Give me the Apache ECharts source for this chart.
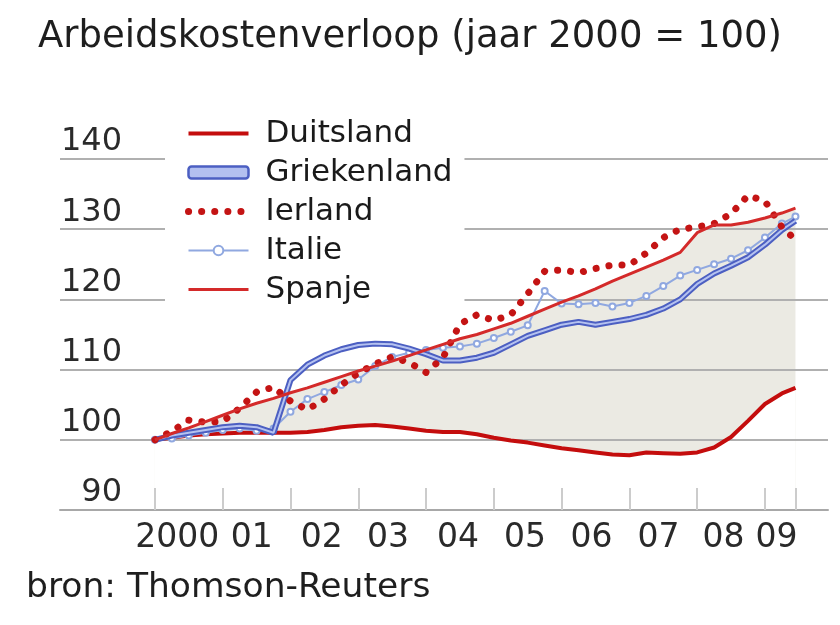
<!DOCTYPE html>
<html><head><meta charset="utf-8">
<script src="https://cdn.jsdelivr.net/npm/echarts@6/dist/echarts.min.js"></script>
<style>html,body{margin:0;padding:0;background:#fff}#c{width:840px;height:625px}</style>
</head><body><div id="c"></div>
<script>
// years since 2000 (quarterly, last point mid-2009)
const periods = [0,0.25,0.5,0.75,1,1.25,1.5,1.75,2,2.25,2.5,2.75,3,3.25,3.5,3.75,4,4.25,4.5,4.75,5,5.25,5.5,5.75,6,6.25,6.5,6.75,7,7.25,7.5,7.75,8,8.25,8.5,8.75,9,9.25,9.45];
const duitsland = [100,100.3,100.6,100.8,100.9,101.0,101.0,101.0,101.0,101.1,101.4,101.8,102.0,102.1,101.9,101.6,101.3,101.1,101.1,100.8,100.3,99.9,99.6,99.2,98.8,98.5,98.2,97.9,97.8,98.2,98.1,98.0,98.2,98.9,100.4,102.7,105.1,106.6,107.4];
const griekenland = [100,100.6,101.0,101.4,101.8,102.0,101.8,101.0,108.5,110.7,112.0,112.9,113.5,113.7,113.6,113.0,112.2,111.3,111.3,111.7,112.4,113.6,114.8,115.6,116.4,116.8,116.4,116.8,117.2,117.8,118.7,120.0,122.2,123.7,124.8,126.0,127.8,129.9,131.2];
const ierland = [100,101.2,102.8,102.5,102.6,104.5,106.8,107.5,105.5,104.3,105.8,107.8,109.5,110.8,111.8,111.0,109.6,111.7,116.5,117.8,117.0,117.8,120.8,124.0,124.2,123.8,124.4,124.9,124.9,126.6,128.8,130.0,130.3,130.8,132.2,134.8,134.0,130.3,128.5];
const italie = [100,100.2,100.6,101.0,101.4,101.6,101.3,101.6,104.0,105.8,106.8,107.8,108.6,110.5,111.8,112.4,112.8,113.1,113.3,113.7,114.5,115.4,116.3,121.2,119.4,119.3,119.5,119.0,119.5,120.5,121.9,123.4,124.2,125.0,125.8,127.0,128.8,130.8,131.8];
const spanje = [100,100.9,101.7,102.6,103.5,104.4,105.2,105.9,106.7,107.4,108.2,109.0,109.8,110.5,111.2,112.0,112.8,113.6,114.4,115.0,115.8,116.6,117.6,118.6,119.6,120.5,121.5,122.6,123.6,124.6,125.6,126.7,129.5,130.6,130.6,131.0,131.6,132.3,133.0];
const yearLabels = ['2000','01','02','03','04','05','06','07','08','09'];
const yearTicks = [0,1,2,3,4,5,6,7,8,9,9.45];

// layout: where each year label is centred (years since 2000)
const yearLabelPos = [0.33,1.43,2.46,3.44,4.47,5.46,6.44,7.43,8.39,9.17];

const pair = arr => periods.map((t,i)=>[t, arr[i]]);
const F = 'DejaVu Sans';
const noDot = {opacity: 0};
const chart = echarts.init(document.getElementById('c'), null, {renderer:'canvas'});
const option = {
  animation: false,
  backgroundColor: '#fff',
  title: [
    {text: 'Arbeidskostenverloop (jaar 2000 = 100)', left: 38, top: 19, padding: 0,
     textStyle: {fontFamily: F, fontSize: 37, fontWeight: 'normal', color: '#1e1e1e'}},
    {text: 'bron: Thomson-Reuters', left: 26, top: 571, padding: 0,
     textStyle: {fontFamily: F, fontSize: 34.5, fontWeight: 'normal', color: '#1e1e1e'}}
  ],
  legend: {
    data: [
      {name: 'Duitsland', itemStyle: noDot},
      {name: 'Griekenland', icon: 'roundRect', itemStyle: {color: '#b3c0f0', borderColor: '#4c5fc2', borderWidth: 2.5}},
      {name: 'Ierland', itemStyle: noDot},
      {name: 'Italie'},
      {name: 'Spanje', itemStyle: noDot}
    ],
    orient: 'vertical', left: 165, top: 114,
    itemWidth: 60, itemHeight: 12, itemGap: 8,
    padding: [4, 12, 4, 20], backgroundColor: '#fff', z: 10,
    lineStyle: {width: 'inherit'},
    textStyle: {fontFamily: F, fontSize: 31, color: '#1a1a1a', padding: [0,0,0,12], lineHeight: 31}
  },
  grid: {left: 60, right: 12, top: 159, bottom: 115},
  xAxis: {
    type: 'value', min: -1.4, max: 9.93,
    splitLine: {show: false},
    axisLine: {show: true, lineStyle: {color: '#a8a8a8', width: 2}},
    axisTick: {show: true, inside: true, length: 22, customValues: yearTicks,
               lineStyle: {color: '#cccccc', width: 2}},
    axisLabel: {customValues: yearLabelPos, margin: 12, fontFamily: F, fontSize: 33, color: '#2a2a2a',
      formatter: v => { const i = yearLabelPos.findIndex(p => Math.abs(p - v) < 1e-6); return i >= 0 ? yearLabels[i] : ''; }}
  },
  yAxis: {
    type: 'value', min: 90, max: 140, interval: 10,
    axisLine: {show: false}, axisTick: {show: false},
    splitLine: {show: true, lineStyle: {color: '#b0b0b0', width: 2}},
    axisLabel: {inside: true, margin: 62, align: 'right', verticalAlign: 'bottom', padding: [0,0,1,0],
                fontFamily: F, fontSize: 32, color: '#2a2a2a'}
  },
  series: [
    {name: 'fillTop', type: 'line', data: pair(spanje), symbol: 'none', silent: true, z: -2,
     lineStyle: {width: 0, opacity: 0}, areaStyle: {color: '#ebeae3', opacity: 1, origin: 'start'}},
    {name: 'fillBottom', type: 'line', data: pair(duitsland), symbol: 'none', silent: true, z: -1,
     lineStyle: {width: 0, opacity: 0}, areaStyle: {color: '#ffffff', opacity: 1, origin: 'start'}},
    {name: 'Duitsland', type: 'line', data: pair(duitsland), symbol: 'none', z: 5,
     lineStyle: {color: '#c40d0d', width: 4}, itemStyle: {color: '#c40d0d'}},
    {name: 'Italie', type: 'line', data: pair(italie), symbol: 'emptyCircle', symbolSize: 6, showSymbol: true, z: 5,
     lineStyle: {color: '#90a8e0', width: 2}, itemStyle: {color: '#90a8e0', borderWidth: 1.5}},
    {name: 'Griekenland', type: 'line', data: pair(griekenland), symbol: 'none', z: 6,
     lineStyle: {color: '#4c5fc2', width: 6}, itemStyle: {color: '#4c5fc2'}},
    {name: 'Griekenland', type: 'line', data: pair(griekenland), symbol: 'none', z: 7,
     lineStyle: {color: '#b5c2f0', width: 2}, itemStyle: {color: '#b5c2f0'}},
    {name: 'Ierland', type: 'line', data: pair(ierland), symbol: 'none', z: 8,
     lineStyle: {color: '#c41414', width: 7, type: [0.1, 13], cap: 'round'}, itemStyle: {color: '#c41414'}},
    {name: 'Spanje', type: 'line', data: pair(spanje), symbol: 'none', z: 9,
     lineStyle: {color: '#d42a2a', width: 3}, itemStyle: {color: '#d42a2a'}}
  ]
};
chart.setOption(option);
</script></body></html>
